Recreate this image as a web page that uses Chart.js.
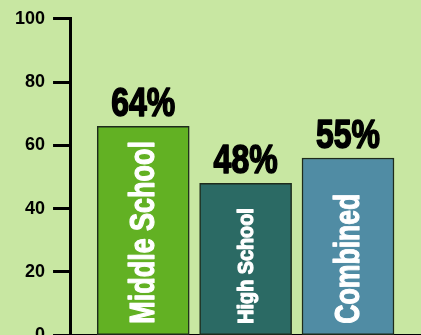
<!DOCTYPE html>
<html>
<head>
<meta charset="utf-8">
<script src="https://cdn.jsdelivr.net/npm/chart.js@4"></script>
<style>
  html, body { margin: 0; padding: 0; background: #c8e7a2; overflow: hidden; }
  #wrap { width: 421px; height: 354px; position: relative; }
</style>
</head>
<body>
<div id="wrap"><canvas id="myChart"></canvas></div>
<script>
const categories = ['Middle School', 'High School', 'Combined']
const barValues = [66, 48, 56]
const valueLabels = ['64%', '48%', '55%']
const barColors = ['#62b123', '#2b6a64', '#508ca4']
// font size and horizontal squeeze for the names inside the bars
const nameSizes = [35, 22, 35]
const nameSqueeze = [0.77, 0.9, 0.76]

const bold = '"Liberation Sans", Arial, sans-serif'

// heavy, narrow text: fill plus a thin stroke of the same colour
function heavyText (ctx, text, color, weight) {
  ctx.fillStyle = color
  ctx.strokeStyle = color
  ctx.lineWidth = weight
  ctx.lineJoin = 'round'
  ctx.strokeText(text, 0, 0)
  ctx.fillText(text, 0, 0)
}

// draws the percentages over the bars and the names inside them
const barText = {
  id: 'barText',
  beforeDraw (chart) {
    const ctx = chart.ctx
    ctx.save()
    ctx.fillStyle = '#c8e7a2'
    ctx.fillRect(0, 0, chart.width, chart.height)
    ctx.restore()
  },
  afterDatasetsDraw (chart) {
    const ctx = chart.ctx
    const meta = chart.getDatasetMeta(0)
    meta.data.forEach((bar, i) => {
      ctx.save()
      ctx.translate(bar.x, bar.y - 10)
      ctx.scale(0.8, 1)
      ctx.font = 'bold 40px ' + bold
      ctx.textAlign = 'center'
      ctx.textBaseline = 'alphabetic'
      heavyText(ctx, valueLabels[i], '#000', 1.6)
      ctx.restore()

      ctx.save()
      ctx.translate(bar.x, bar.base - 11)
      ctx.rotate(-Math.PI / 2)
      ctx.scale(nameSqueeze[i], 1)
      ctx.font = 'bold ' + nameSizes[i] + 'px ' + bold
      ctx.textAlign = 'left'
      ctx.textBaseline = 'middle'
      ctx.translate(0, 1)
      heavyText(ctx, categories[i], '#fff', 1.2)
      ctx.restore()
    })
  }
}

new Chart(document.getElementById('myChart'), {
  type: 'bar',
  data: {
    datasets: [{
      data: barValues.map((v, i) => ({ x: i, y: v })),
      backgroundColor: barColors,
      borderColor: '#1e2b1c',
      borderWidth: 1.5,
      borderSkipped: false,
      barThickness: 92
    }]
  },
  options: {
    responsive: true,
    maintainAspectRatio: false,
    animation: false,
    layout: { padding: { left: 7, top: 15, right: 0, bottom: 0 } },
    plugins: { legend: { display: false }, tooltip: { enabled: false } },
    scales: {
      x: {
        type: 'linear',
        offset: false,
        min: -0.715,
        max: 2.713,
        ticks: { display: false },
        grid: { display: false },
        border: { color: '#000', width: 3 }
      },
      y: {
        min: 0,
        max: 100,
        ticks: {
          stepSize: 20,
          padding: 8,
          color: '#000',
          font: { family: bold, weight: 'bold', size: 18 }
        },
        grid: {
          drawOnChartArea: false,
          tickLength: 17,
          tickColor: '#000',
          tickWidth: 3
        },
        border: { color: '#000', width: 3 }
      }
    }
  },
  plugins: [barText]
})
</script>
</body>
</html>
